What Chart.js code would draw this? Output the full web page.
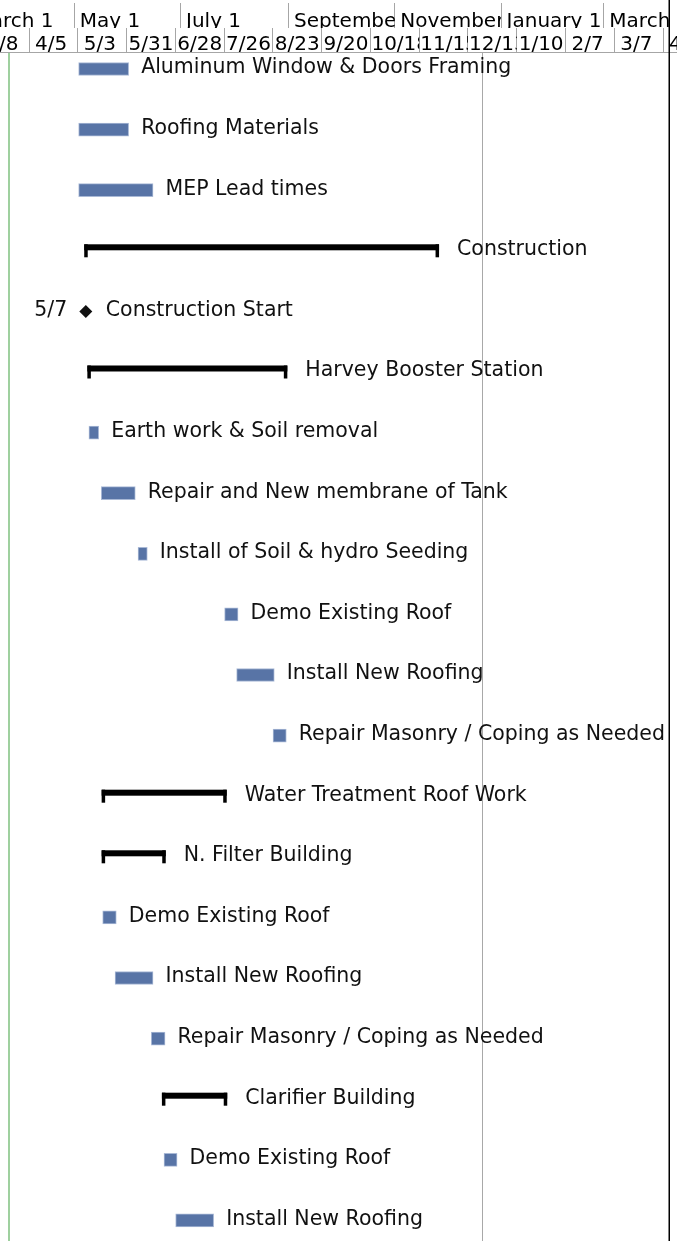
<!DOCTYPE html>
<html>
<head>
<meta charset="utf-8">
<script src="https://cdn.jsdelivr.net/npm/chart.js@4/dist/chart.umd.min.js"></script>
<style>
  html, body { margin: 0; padding: 0; background: #fff; }
  #wrap { position: relative; width: 677px; height: 1241px; overflow: hidden; }
</style>
</head>
<body>
<div id="wrap"><canvas id="gantt" width="677" height="1241"></canvas></div>
<script>
// GANTT - project schedule drawn as floating bars
// all dates are in days after 2020-05-01

const taskNames = [
    'Aluminum Window & Doors Framing', 'Roofing Materials', 'MEP Lead times',
    'Construction', 'Construction Start', 'Harvey Booster Station',
    'Earth work & Soil removal', 'Repair and New membrane of Tank',
    'Install of Soil & hydro Seeding', 'Demo Existing Roof', 'Install New Roofing',
    'Repair Masonry / Coping as Needed', 'Water Treatment Roof Work', 'N. Filter Building',
    'Demo Existing Roof', 'Install New Roofing', 'Repair Masonry / Coping as Needed',
    'Clarifier Building', 'Demo Existing Roof', 'Install New Roofing'
];
const taskType = [
    'task', 'task', 'task', 'summary', 'milestone', 'summary', 'task', 'task', 'task', 'task',
    'task', 'task', 'summary', 'summary', 'task', 'task', 'task', 'summary', 'task', 'task'
];
const taskStart = [2.5, 2.5, 2.5, 5.7, 6.6, 7.5, 8.4, 15.5, 36.6, 86.3, 93.2, 114.1, 15.7, 15.7, 16.3, 23.4, 44.2, 50.3, 51.5, 58.2];
const taskEnd   = [31.2, 31.2, 45.2, 209.4, 6.6, 122.3, 14.0, 35.0, 41.9, 94.0, 114.8, 121.7, 87.5, 52.5, 24.1, 45.2, 52.1, 87.8, 59.0, 80.0];
const milestoneDates = ['', '', '', '', '5/7'];

// timescale tiers
const monthTicks = [-61, 0, 61, 123, 184, 245, 304, 365];
const monthLabels = ['March 1', 'May 1', 'July 1', 'September 1', 'November 1', 'January 1', 'March 1', 'May 1'];
const weekTicks = [-54, -26, 2, 30, 58, 86, 114, 142, 170, 198, 226, 254, 282, 310, 338, 366];
const weekLabels = ['3/8', '4/5', '5/3', '5/31', '6/28', '7/26', '8/23', '9/20', '10/18', '11/15', '12/13', '1/10', '2/7', '3/7', '4/4', '5/2'];

const projectStartDay = -37.5;
const statusDay = 234;
const viewStart = -42.65;
const viewEnd = 346;

const BAR_BLUE = '#5874a6';
const LABEL_FONT = '20.5px "DejaVu Sans", Verdana, sans-serif';
const HEADER_FONT = '20px "DejaVu Sans", Verdana, sans-serif';

const barRows = [];
taskType.forEach((t, i) => {
    if (t !== 'milestone') barRows.push({ x: [taskStart[i], taskEnd[i]], y: i, kind: t });
});
const milestoneRows = [];
taskType.forEach((t, i) => {
    if (t === 'milestone') milestoneRows.push({ x: taskStart[i], y: i });
});

// draws summary brackets, bar text, date lines and the timescale text
const ganttDecor = {
    id: 'ganttDecor',
    beforeDatasetsDraw(chart) {
        const { ctx, chartArea, scales } = chart;
        const xs = scales.x;
        ctx.save();
        ctx.fillStyle = '#9fd09f';
        ctx.fillRect(Math.round(xs.getPixelForValue(projectStartDay)) - 1, chartArea.top + 1, 2, chartArea.bottom - chartArea.top);
        ctx.fillStyle = '#a8a8a8';
        ctx.fillRect(Math.round(xs.getPixelForValue(statusDay)), chartArea.top + 1, 1, chartArea.bottom - chartArea.top);
        ctx.restore();
    },
    afterDatasetsDraw(chart) {
        const { ctx, scales } = chart;
        const ys = scales.y;
        ctx.save();
        // summary bars: thick line on top with end caps
        const barMeta = chart.getDatasetMeta(0);
        barMeta.data.forEach((el, k) => {
            const row = barRows[k];
            const left = Math.min(el.x, el.base);
            const right = Math.max(el.x, el.base);
            const top = el.y - el.height / 2;
            if (row.kind === 'summary') {
                ctx.fillStyle = '#000';
                ctx.fillRect(left, top, right - left, 6);
                ctx.fillRect(left, top, 3.5, el.height);
                ctx.fillRect(right - 3.5, top, 3.5, el.height);
            }
            ctx.font = LABEL_FONT;
            ctx.fillStyle = '#111';
            ctx.textAlign = 'left';
            ctx.textBaseline = 'alphabetic';
            const gap = row.kind === 'summary' ? 18 : 12.5;
            ctx.fillText(taskNames[row.y], right + gap, ys.getPixelForValue(row.y) + 4.5);
        });
        // milestone text
        const msMeta = chart.getDatasetMeta(1);
        msMeta.data.forEach((pt, k) => {
            const row = milestoneRows[k];
            const cy = ys.getPixelForValue(row.y) + 4.5;
            ctx.font = LABEL_FONT;
            ctx.fillStyle = '#111';
            ctx.textAlign = 'left';
            ctx.fillText(taskNames[row.y], pt.x + 20, cy);
            ctx.textAlign = 'right';
            ctx.fillText(milestoneDates[row.y], pt.x - 18.5, cy);
        });
        ctx.restore();
    },
    afterDraw(chart) {
        const { ctx, scales } = chart;
        const drawTier = (scale, ticks, labels, baseline, centred) => {
            ticks.forEach((v, i) => {
                const px = scale.getPixelForValue(v);
                const next = i < ticks.length - 1 ? scale.getPixelForValue(ticks[i + 1]) : chart.width;
                ctx.save();
                ctx.font = HEADER_FONT;
                const w = ctx.measureText(labels[i]).width;
                let pad = 5.5;
                if (centred) pad = Math.min(6, Math.max(1, (next - px - w) / 2));
                ctx.beginPath();
                ctx.rect(px + 1, scale.top, next - px - 1, scale.bottom - scale.top);
                ctx.clip();
                ctx.fillStyle = '#000';
                ctx.textAlign = 'left';
                ctx.textBaseline = 'alphabetic';
                ctx.fillText(labels[i], px + pad, baseline);
                ctx.restore();
            });
        };
        drawTier(scales.x2, monthTicks, monthLabels, scales.x2.bottom - 1.5, false);
        drawTier(scales.x, weekTicks, weekLabels, scales.x.bottom - 2.5, true);
        // pane edge on the right
        ctx.save();
        ctx.fillStyle = '#000';
        ctx.fillRect(668.5, 0, 1.5, chart.height);
        ctx.restore();
    }
};

const ctx = document.getElementById('gantt').getContext('2d');
window.ganttChart = new Chart(ctx, {
    type: 'bar',
    data: {
        datasets: [{
            label: 'Tasks',
            data: barRows,
            xAxisID: 'x',
            yAxisID: 'y',
            barThickness: 13,
            backgroundColor: (c) => (c.raw && c.raw.kind === 'summary') ? 'rgba(0,0,0,0)' : BAR_BLUE,
            borderColor: (c) => (c.raw && c.raw.kind === 'summary') ? 'rgba(0,0,0,0)' : '#a9b9d6',
            borderWidth: 1,
            borderSkipped: false
        }, {
            type: 'scatter',
            label: 'Milestones',
            data: milestoneRows,
            xAxisID: 'x',
            yAxisID: 'y',
            pointStyle: 'rectRot',
            pointRadius: 6.5,
            backgroundColor: '#111',
            borderWidth: 0
        }]
    },
    options: {
        indexAxis: 'y',
        responsive: false,
        animation: false,
        devicePixelRatio: 1,
        layout: { padding: 0, autoPadding: false },
        plugins: {
            legend: { display: false },
            tooltip: { enabled: false }
        },
        scales: {
            x: {
                type: 'linear',
                position: 'top',
                weight: 0,
                offset: false,
                min: viewStart,
                max: viewEnd,
                afterBuildTicks: (s) => { s.ticks = weekTicks.map(v => ({ value: v })); },
                afterFit: (s) => { s.height = 24; s.paddingLeft = 0; s.paddingRight = 0; },
                ticks: { display: false },
                grid: { drawOnChartArea: false, drawTicks: true, tickLength: 24, color: '#a6a6a6' },
                border: { display: true, color: '#a6a6a6' }
            },
            x2: {
                type: 'linear',
                position: 'top',
                weight: 1,
                offset: false,
                min: viewStart,
                max: viewEnd,
                afterBuildTicks: (s) => { s.ticks = monthTicks.map(v => ({ value: v })); },
                afterFit: (s) => { s.height = 28; s.paddingLeft = 0; s.paddingRight = 0; },
                ticks: { display: false },
                grid: { drawOnChartArea: false, drawTicks: true, tickLength: 25, color: '#a6a6a6' },
                border: { display: false }
            },
            y: {
                type: 'linear',
                display: false,
                reverse: true,
                offset: false,
                min: -0.2805,
                max: 19.34
            }
        }
    },
    plugins: [ganttDecor]
});
</script>
</body>
</html>
